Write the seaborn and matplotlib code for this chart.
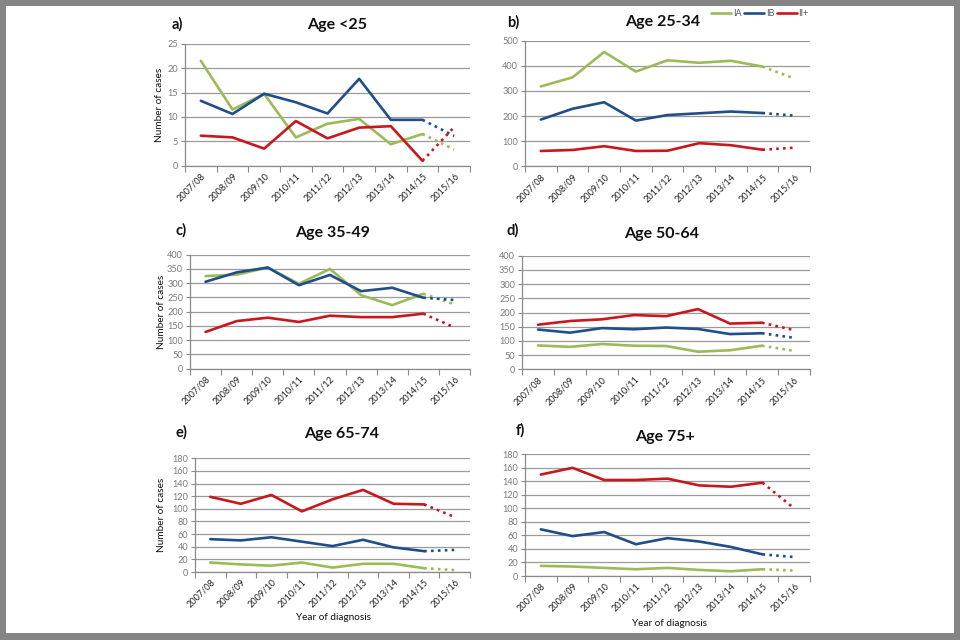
import numpy as np
import pandas as pd
import matplotlib
matplotlib.use("Agg")
import matplotlib.pyplot as plt
import seaborn as sns
from matplotlib.patches import Rectangle
from matplotlib.lines import Line2D
from matplotlib.ticker import FixedLocator, MultipleLocator

# ---------------- data ----------------
years = ["2007/08", "2008/09", "2009/10", "2010/11", "2011/12",
         "2012/13", "2013/14", "2014/15", "2015/16"]
stages = ["IA", "IB", "II+"]

panel_letters = ["a)", "b)", "c)", "d)", "e)", "f)"]
panel_titles = ["Age <25", "Age 25-34", "Age 35-49", "Age 50-64", "Age 65-74", "Age 75+"]

# Age <25
a_IA  = [21.5, 11.5, 14.7, 5.8, 8.6, 9.6, 4.4, 6.5, 3.3]
a_IB  = [13.3, 10.6, 14.75, 13.0, 10.7, 17.8, 9.4, 9.4, 6.1]
a_II  = [6.15, 5.8, 3.5, 9.15, 5.6, 7.8, 8.1, 1.0, 7.9]
# Age 25-34
b_IA  = [318, 354, 455, 377, 422, 412, 420, 397, 350]
b_IB  = [186, 229, 255, 182, 204, 211, 218, 212, 202]
b_II  = [61, 65, 80, 61, 62, 92, 84, 66, 74]
# Age 35-49
c_IA  = [325, 330, 355, 298, 350, 258, 223, 263, 226]
c_IB  = [305, 338, 355, 293, 329, 272, 284, 249, 241]
c_II  = [129, 167, 179, 164, 186, 181, 181, 193, 145]
# Age 50-64
d_IA  = [84, 79, 89, 83, 82, 62, 67, 83, 65]
d_IB  = [140, 129, 145, 141, 147, 142, 124, 127, 111]
d_II  = [157, 170, 176, 191, 187, 212, 161, 164, 138]
# Age 65-74
e_IA  = [15, 12, 10, 15, 7, 13, 13, 6, 3]
e_IB  = [52, 50, 55, 48, 41, 51, 39, 33, 35]
e_II  = [119, 108, 122, 96, 115, 130, 108, 107, 87]
# Age 75+
f_IA  = [15, 14, 12, 10, 12, 9, 7, 10, 8]
f_IB  = [69, 59, 65, 47, 56, 51, 43, 32, 28]
f_II  = [150, 160, 142, 142, 144, 134, 132, 138, 100]

panel_series = [(a_IA, a_IB, a_II), (b_IA, b_IB, b_II), (c_IA, c_IB, c_II),
                (d_IA, d_IB, d_II), (e_IA, e_IB, e_II), (f_IA, f_IB, f_II)]
y_max = [25, 500, 400, 400, 180, 180]
y_step = [5, 100, 50, 50, 20, 20]

# ---------------- styling ----------------
palette = {"IA": "#9BBB59", "IB": "#1F4E8A", "II+": "#C8171E"}
W, H = 960, 640

# axes rectangles in pixels: left, top, right, bottom
axes_px = [
    (185, 43.7, 470, 165.7),
    (525, 40.7, 810, 166.3),
    (190, 254.7, 470, 368.7),
    (522, 255.7, 810, 369.3),
    (195, 458.3, 470, 572.0),
    (525, 454.3, 810, 576.0),
]
title_px = [(337, 25), (663, 22), (333, 233), (662, 234), (342, 434), (665, 437)]
letter_px = [(172, 24), (507, 22), (175, 230), (507, 230), (176, 432), (516, 430)]
ylabel_x = {0: 160, 2: 161, 4: 162}
xlabel_px = {4: (333, 617), 5: (670, 623)}

sns.set_theme(style="white")
plt.rcParams["font.family"] = ["Lato", "DejaVu Sans"]

fig = plt.figure(figsize=(W / 100, H / 100), dpi=100)
fig.patch.set_facecolor("#858585")
fig.add_artist(Rectangle((6 / W, 7 / H), (W - 12) / W, (H - 13) / H,
                         transform=fig.transFigure, facecolor="white",
                         edgecolor="none", zorder=-10))

# long data frames
rows = []
for p, series in enumerate(panel_series):
    for s, vals in zip(stages, series):
        for i, v in enumerate(vals):
            if i <= 7:
                rows.append(dict(panel=p, stage=s, x=i, value=v, seg="obs"))
            if i >= 7:
                rows.append(dict(panel=p, stage=s, x=i, value=v, seg="proj"))
df = pd.DataFrame(rows)

grid_col = "#9A9A9A"
axis_col = "#8A8A8A"

for p in range(6):
    l, t, r, b = axes_px[p]
    ax = fig.add_axes([l / W, 1 - b / H, (r - l) / W, (b - t) / H])
    sub = df[df.panel == p]
    sns.lineplot(data=sub[sub.seg == "obs"], x="x", y="value", hue="stage",
                 hue_order=stages, palette=palette, ax=ax, linewidth=1.9,
                 legend=False, errorbar=None)
    sns.lineplot(data=sub[sub.seg == "proj"], x="x", y="value", hue="stage",
                 hue_order=stages, palette=palette, ax=ax, linewidth=1.9,
                 linestyle=(0, (1, 1.6)), legend=False, errorbar=None)
    ax.set_xlim(-0.5, 8.5)
    ax.set_ylim(0, y_max[p])
    ax.yaxis.set_major_locator(MultipleLocator(y_step[p]))
    ax.set_xticks(range(9))
    ax.set_xticklabels(years, rotation=45, ha="right", rotation_mode="anchor",
                       fontsize=6.6, color="#222222")
    ax.xaxis.set_minor_locator(FixedLocator(np.arange(-0.5, 9, 1)))
    ax.tick_params(axis="x", which="major", length=0, pad=4)
    ax.tick_params(axis="x", which="minor", length=4, color=axis_col, width=0.8,
                   direction="out", bottom=True)
    ax.tick_params(axis="y", which="major", length=3, color=axis_col, width=0.8,
                   direction="out", left=True, labelsize=6.6, labelcolor="#7A7A7A", pad=2)
    ax.grid(axis="y", color=grid_col, linewidth=0.9)
    ax.grid(axis="x", visible=False)
    for side in ["top", "right"]:
        ax.spines[side].set_visible(False)
    for side in ["left", "bottom"]:
        ax.spines[side].set_color(axis_col)
        ax.spines[side].set_linewidth(0.9)
    ax.set_xlabel("")
    ax.set_ylabel("")
    ax.set_facecolor("none")

    tx, ty = title_px[p]
    fig.text(tx / W, 1 - ty / H, panel_titles[p], ha="center", va="center",
             fontsize=11.5, fontweight="bold", color="#111111")
    lx, ly = letter_px[p]
    fig.text(lx / W, 1 - ly / H, panel_letters[p], ha="left", va="center",
             fontsize=10.5, fontweight="bold", color="#111111")
    if p in ylabel_x:
        fig.text(ylabel_x[p] / W, 1 - ((t + b) / 2) / H, "Number of cases",
                 rotation=90, ha="center", va="center", fontsize=7.2, color="#111111")
    if p in xlabel_px:
        xx, yy = xlabel_px[p]
        fig.text(xx / W, 1 - yy / H, "Year of diagnosis", ha="center", va="center",
                 fontsize=7.2, color="#111111")

handles = [Line2D([], [], color=palette[s], linewidth=1.9) for s in stages]
fig.legend(handles=handles, labels=stages, loc="center",
           bbox_to_anchor=(760 / W, 1 - 14 / H), ncol=3, frameon=False,
           fontsize=6.5, handlelength=2.2, handletextpad=0.15, columnspacing=0.35,
           labelcolor="#555555")

fig.savefig("out.png", dpi=100)
